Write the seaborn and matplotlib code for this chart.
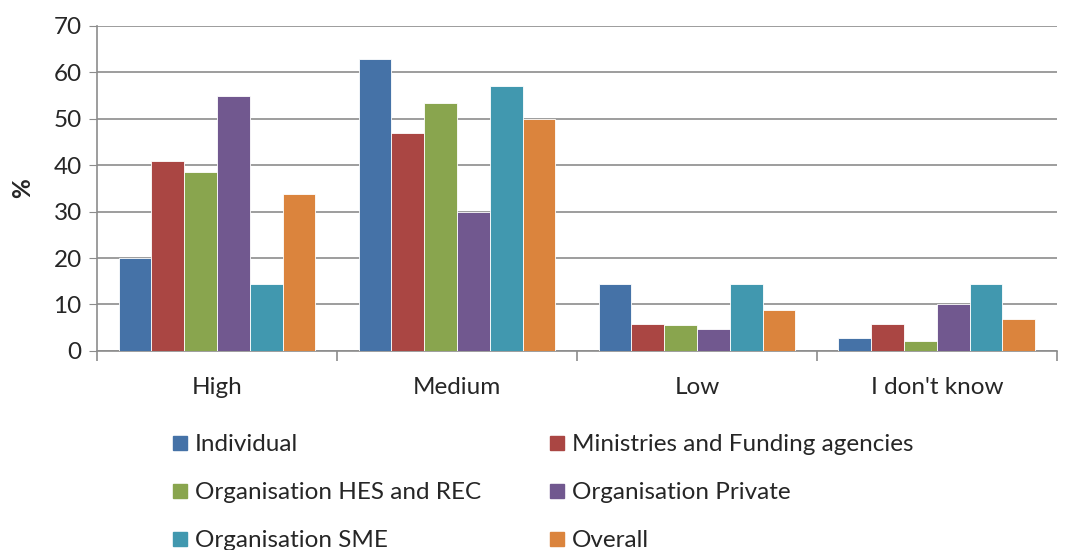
import pandas as pd
import matplotlib.pyplot as plt
import seaborn as sns
from matplotlib.lines import Line2D

categories = ['High', 'Medium', 'Low', "I don't know"]
groups = ['Individual', 'Ministries and Funding agencies', 'Organisation HES and REC',
          'Organisation Private', 'Organisation SME', 'Overall']
individual = [20.0, 62.8, 14.3, 2.7]
ministries = [41.0, 46.9, 5.8, 5.8]
hes_rec = [38.5, 53.3, 5.5, 2.1]
private = [54.9, 30.0, 4.8, 10.0]
sme = [14.3, 57.1, 14.3, 14.3]
overall = [33.8, 50.0, 8.9, 6.9]
colors = ['#4572A7', '#AA4643', '#89A54E', '#71588F', '#4198AF', '#DB843D']

series = [individual, ministries, hes_rec, private, sme, overall]
rows = []
for g, vals in zip(groups, series):
    for c, v in zip(categories, vals):
        rows.append({'cat': c, 'group': g, 'pct': v})
df = pd.DataFrame(rows)

sns.set_style('white')
plt.rcParams['font.family'] = ['Lato', 'DejaVu Sans']
fs = 17.5

fig = plt.figure(figsize=(10.7, 5.5), dpi=100)
ax = fig.add_axes([0.0907, 0.362, 0.897, 0.591])

sns.barplot(data=df, x='cat', y='pct', hue='group', order=categories, hue_order=groups,
            palette=colors, width=0.82, saturation=1, edgecolor='white', linewidth=0.6,
            legend=False, ax=ax, zorder=3)

ax.set_ylim(0, 70)
ax.set_xlim(-0.5, 3.5)
ax.set_yticks(range(0, 71, 10))
ax.yaxis.grid(True, color='#8c8c8c', linewidth=1.2, zorder=0)
ax.set_axisbelow(True)
for s in ['top', 'right']:
    ax.spines[s].set_visible(False)
for s in ['left', 'bottom']:
    ax.spines[s].set_color('#8c8c8c')
    ax.spines[s].set_linewidth(1.2)

ax.tick_params(axis='y', which='major', left=True, length=6, color='#8c8c8c', labelsize=fs, pad=5)
ax.tick_params(axis='x', which='major', length=0, labelsize=fs, pad=19)
ax.set_xticks([-0.5, 0.5, 1.5, 2.5, 3.5], minor=True)
ax.tick_params(axis='x', which='minor', bottom=True, length=7, color='#8c8c8c', width=1.2)
ax.set_xlabel('')
ax.set_ylabel('%', fontsize=fs, fontweight='bold', labelpad=14)

# row-wise order for a 2-column legend
order = [0, 2, 4, 1, 3, 5]
handles = [Line2D([0], [0], marker='s', linestyle='', markersize=10,
                  markerfacecolor=colors[i], markeredgecolor=colors[i]) for i in order]
labels = [groups[i] for i in order]
fig.legend(handles, labels, loc='upper left', bbox_to_anchor=(0.1515, 0.228), ncol=2,
           frameon=False, fontsize=fs, handlelength=0.7, handletextpad=0.25,
           columnspacing=2.78, labelspacing=1.11, borderaxespad=0)

fig.savefig('out.png', dpi=100)
